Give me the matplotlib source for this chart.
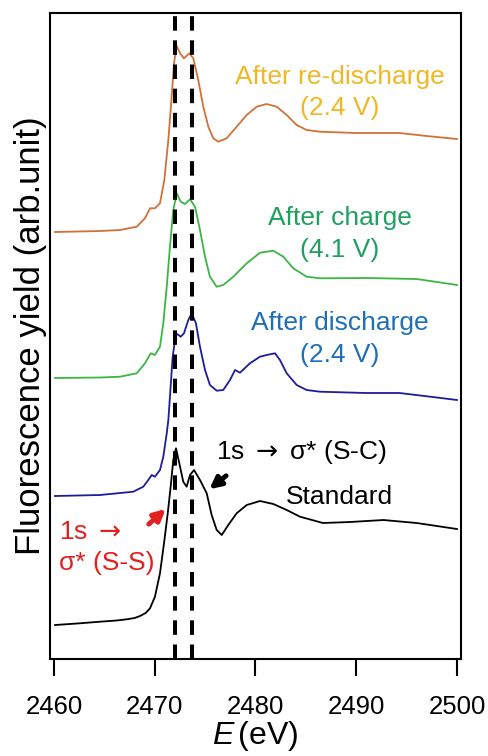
import matplotlib
matplotlib.use('Agg')
import matplotlib.pyplot as plt

plt.rcParams['font.family'] = ['Liberation Sans', 'DejaVu Sans']
plt.rcParams['mathtext.fontset'] = 'custom'
plt.rcParams['mathtext.it'] = 'Liberation Sans:italic'
plt.rcParams['mathtext.rm'] = 'DejaVu Sans'

# S K-edge spectra (vertical offsets included)
std_x = [2460.1, 2462.3, 2464.57, 2466.2, 2467.22, 2468.0, 2468.54, 2469.1, 2469.53, 2470.02,
         2470.52, 2470.92, 2471.29, 2471.58, 2471.84, 2472.11, 2472.44, 2472.83, 2473.17, 2473.5,
         2473.9, 2474.49, 2475.16, 2475.65, 2476.15, 2476.65, 2477.3, 2478.13, 2479.13, 2480.45,
         2481.77, 2483.1, 2484.42, 2486.7, 2489.4, 2492.7, 2496.0, 2500.0]
std_y = [0.34, 0.355, 0.373, 0.385, 0.397, 0.41, 0.43, 0.46, 0.507, 0.623,
         0.857, 1.157, 1.457, 1.723, 1.99, 2.107, 1.957, 1.773, 1.723, 1.84,
         1.89, 1.79, 1.657, 1.44, 1.29, 1.24, 1.34, 1.457, 1.54, 1.58,
         1.55, 1.49, 1.423, 1.36, 1.37, 1.39, 1.36, 1.30]

dis_x = [2460.1, 2464.57, 2467.87, 2468.86, 2469.36, 2469.7, 2470.02, 2470.52, 2470.85, 2471.19,
         2471.35, 2471.51, 2471.78, 2472.11, 2472.58, 2472.9, 2473.33, 2473.67, 2474.09, 2474.49,
         2474.99, 2475.48, 2476.15, 2476.8, 2477.47, 2477.97, 2478.46, 2479.45, 2480.45, 2481.11,
         2481.94, 2482.43, 2483.1, 2484.09, 2485.08, 2486.4, 2491.0, 2494.3, 2497.6, 2500.0]
dis_y = [1.63, 1.64, 1.673, 1.723, 1.79, 1.84, 1.823, 1.89, 2.023, 2.257,
         2.39, 2.623, 3.023, 3.257, 3.223, 3.257, 3.39, 3.457, 3.357, 3.123,
         2.89, 2.74, 2.683, 2.69, 2.79, 2.89, 2.863, 2.957, 3.023, 3.04,
         3.057, 2.99, 2.857, 2.74, 2.69, 2.673, 2.66, 2.66, 2.62, 2.59]

chg_x = [2460.1, 2464.6, 2466.55, 2468.21, 2469.03, 2469.6, 2470.02, 2470.52, 2470.85, 2471.19,
         2471.51, 2471.84, 2472.18, 2472.58, 2473.0, 2473.5, 2474.0, 2474.49, 2474.99, 2475.48,
         2476.15, 2476.8, 2477.8, 2479.13, 2480.45, 2481.77, 2482.76, 2483.75, 2485.08, 2486.4,
         2491.0, 2496.0, 2500.0]
chg_y = [2.81, 2.815, 2.823, 2.857, 2.957, 3.057, 3.04, 3.123, 3.357, 3.723,
         4.123, 4.49, 4.657, 4.573, 4.55, 4.597, 4.523, 4.29, 4.023, 3.823,
         3.723, 3.74, 3.823, 3.957, 4.063, 4.083, 4.023, 3.907, 3.823, 3.807,
         3.81, 3.80, 3.74]

redis_x = [2460.1, 2464.6, 2466.55, 2468.21, 2469.03, 2469.53, 2470.02, 2470.52, 2470.95, 2471.35,
           2471.68, 2471.91, 2472.18, 2472.51, 2472.9, 2473.43, 2473.83, 2474.32, 2474.82, 2475.32,
           2475.81, 2476.31, 2477.14, 2478.13, 2479.13, 2480.12, 2481.11, 2482.1, 2483.1, 2484.09,
           2485.08, 2486.4, 2490.0, 2494.3, 2497.0, 2500.0]
redis_y = [4.27, 4.28, 4.29, 4.323, 4.407, 4.507, 4.507, 4.557, 4.79, 5.19,
           5.623, 5.957, 6.13, 6.057, 6.007, 6.057, 6.007, 5.79, 5.523, 5.323,
           5.207, 5.173, 5.207, 5.323, 5.44, 5.523, 5.55, 5.523, 5.44, 5.34,
           5.29, 5.273, 5.26, 5.26, 5.23, 5.20]

peak_lines = [2472.0, 2473.7]
xticks = [2460, 2470, 2480, 2490, 2500]

fig = plt.figure(figsize=(4.89, 7.56), dpi=100)
ax = fig.add_axes([0.1022, 0.1283, 0.8405, 0.8545])

ax.plot(std_x, std_y, color='black', lw=1.3)
ax.plot(dis_x, dis_y, color='#1c1c9c', lw=1.3)
ax.plot(chg_x, chg_y, color='#3cb544', lw=1.3)
ax.plot(redis_x, redis_y, color='#d2703a', lw=1.3)

for xv in peak_lines:
    ax.axvline(xv, color='black', lw=2.9, dashes=(3.6, 2.4))

fs = 19
arrow = '$\\rightarrow$'
ax.text(2488.4, 5.82, 'After re-discharge', color='#efb824', fontsize=fs, ha='center', va='center')
ax.text(2488.4, 5.51, '(2.4 V)', color='#efb824', fontsize=fs, ha='center', va='center')
ax.text(2488.4, 4.41, 'After charge', color='#1fa060', fontsize=fs, ha='center', va='center')
ax.text(2488.4, 4.09, '(4.1 V)', color='#1fa060', fontsize=fs, ha='center', va='center')
ax.text(2488.4, 3.36, 'After discharge', color='#1f6fb8', fontsize=fs, ha='center', va='center')
ax.text(2488.4, 3.04, '(2.4 V)', color='#1f6fb8', fontsize=fs, ha='center', va='center')
ax.text(2484.6, 2.07, '1s ' + arrow + ' \u03c3* (S-C)', color='black', fontsize=fs, ha='center', va='center')
ax.text(2488.3, 1.62, 'Standard', color='black', fontsize=fs, ha='center', va='center')
ax.text(2460.5, 1.27, '1s ' + arrow, color='#e32020', fontsize=fs, ha='left', va='center')
ax.text(2460.5, 0.96, '\u03c3* (S-S)', color='#e32020', fontsize=fs, ha='left', va='center')

ax.annotate('', xy=(2471.3, 1.52), xytext=(2469.2, 1.33),
            arrowprops=dict(arrowstyle='-|>', color='#e32020', lw=3.5, mutation_scale=17))
ax.annotate('', xy=(2475.2, 1.68), xytext=(2477.3, 1.85),
            arrowprops=dict(arrowstyle='-|>', color='black', lw=3.5, mutation_scale=17))

ax.set_xlim(2459.6, 2500.4)
ax.set_ylim(0, 6.46)
ax.set_xticks(xticks)
ax.set_yticks([])
ax.tick_params(axis='x', direction='out', length=12, width=1.5, labelsize=18.5, pad=14)
for s in ax.spines.values():
    s.set_linewidth(1.5)

ax.set_xlabel('$E\\,$(eV)', fontsize=23, labelpad=0)
ax.set_ylabel('Fluorescence yield (arb.unit)', fontsize=25, labelpad=2)

plt.savefig('out.png', dpi=100)
